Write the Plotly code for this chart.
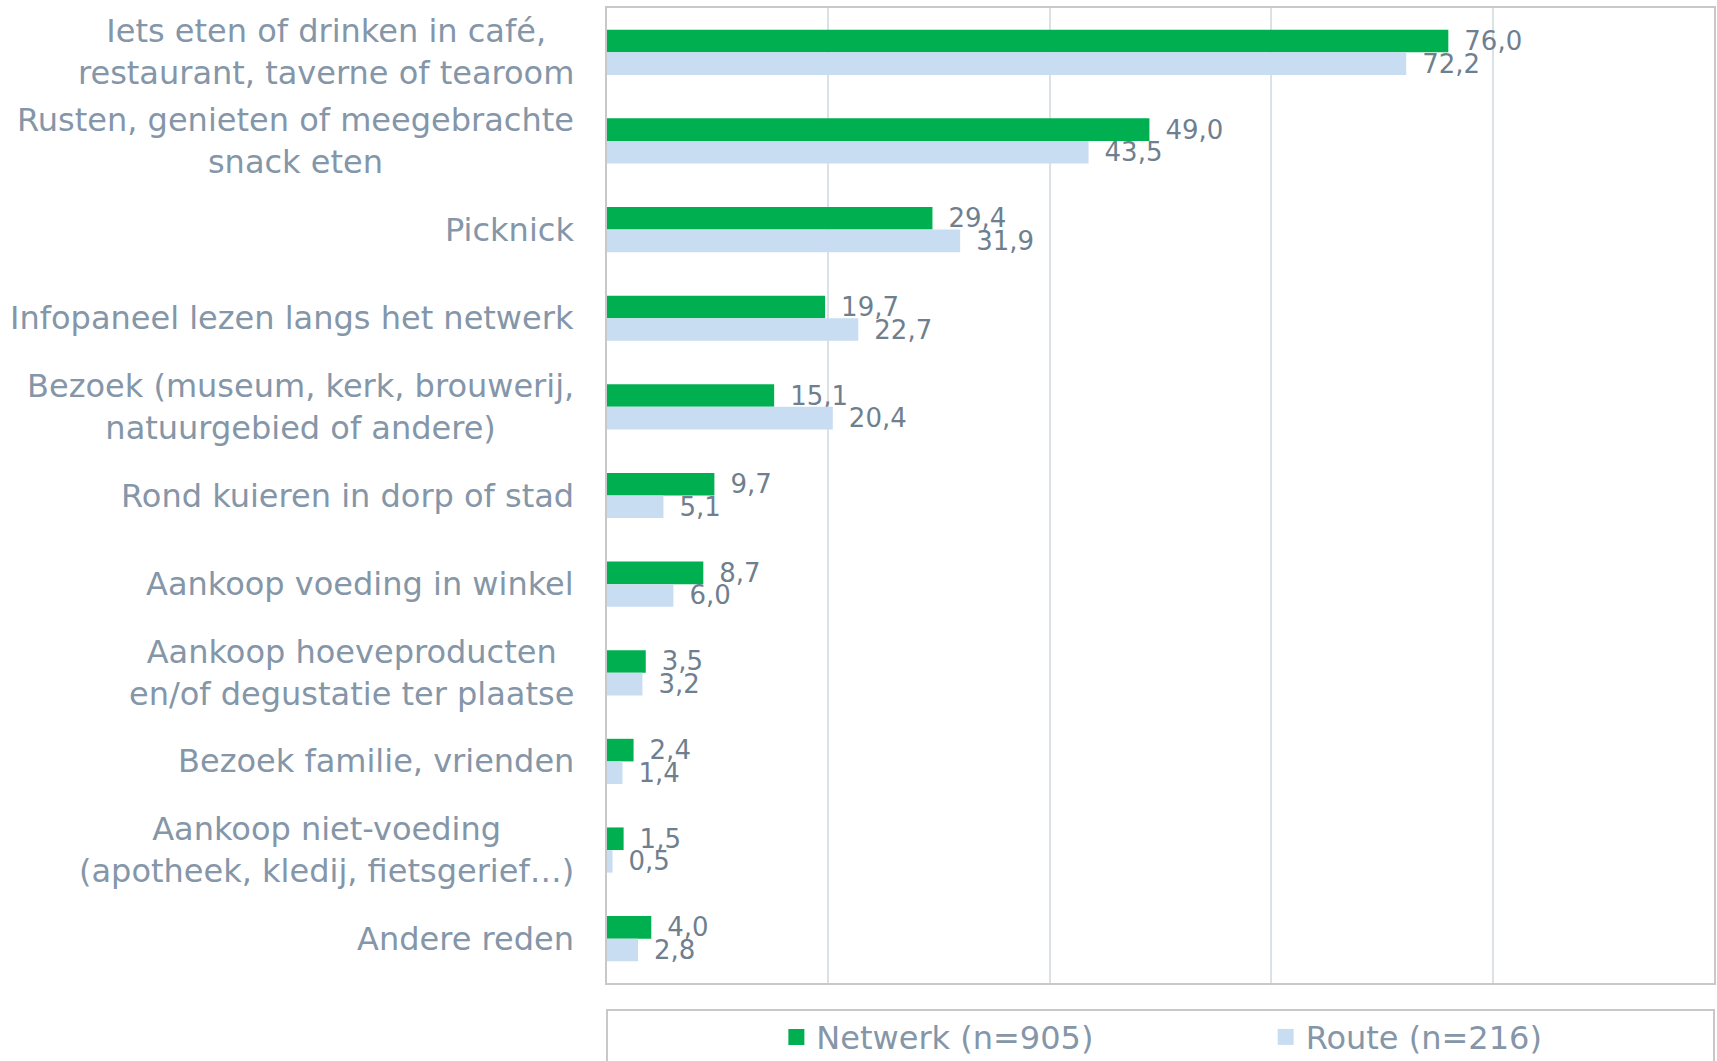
import plotly.graph_objects as go

categories = [
    "Iets eten of drinken in café,<br>restaurant, taverne of tearoom",
    "Rusten, genieten of meegebrachte<br>snack eten",
    "Picknick",
    "Infopaneel lezen langs het netwerk",
    "Bezoek (museum, kerk, brouwerij,<br>natuurgebied of andere)",
    "Rond kuieren in dorp of stad",
    "Aankoop voeding in winkel",
    "Aankoop hoeveproducten<br>en/of degustatie ter plaatse",
    "Bezoek familie, vrienden",
    "Aankoop niet-voeding<br>(apotheek, kledij, fietsgerief…)",
    "Andere reden",
]
netwerk = [76.0, 49.0, 29.4, 19.7, 15.1, 9.7, 8.7, 3.5, 2.4, 1.5, 4.0]
route = [72.2, 43.5, 31.9, 22.7, 20.4, 5.1, 6.0, 3.2, 1.4, 0.5, 2.8]
series_names = ["Netwerk (n=905)", "Route (n=216)"]
x_ticks = [0, 20, 40, 60, 80, 100]

GREEN = "#00B050"
LIGHTBLUE = "#C9DDF2"
LABEL_COLOR = "#8496A8"
VALUE_COLOR = "#6F7F8F"
FONT = "DejaVu Sans"

fig = go.Figure()
for name, vals, col in [(series_names[0], netwerk, GREEN), (series_names[1], route, LIGHTBLUE)]:
    fig.add_trace(go.Bar(
        y=categories, x=vals, name=name, orientation="h",
        marker=dict(color=col, line=dict(width=0)),
        texttemplate="\u2002%{x:.1f}", textposition="outside",
        textfont=dict(family=FONT, size=26, color=VALUE_COLOR),
        constraintext="none", cliponaxis=False, showlegend=False,
    ))

# legend entries with larger square symbols, one legend per entry
for name, col, lg in [(series_names[0], GREEN, "legend"), (series_names[1], LIGHTBLUE, "legend2")]:
    fig.add_trace(go.Scatter(
        x=[None], y=[None], mode="markers", name=name, legend=lg,
        marker=dict(symbol="square", size=16, color=col), showlegend=True,
    ))

for c in categories:
    fig.add_annotation(
        x=0, xref="paper", y=c, yref="y", xanchor="right", yanchor="middle",
        xshift=-31, align="center", showarrow=False, text=c,
        font=dict(family=FONT, size=32, color=LABEL_COLOR),
    )

# legend box
fig.add_shape(type="rect", xref="paper", yref="paper", x0=0, x1=1, y0=-0.0277, y1=-0.3,
              line=dict(color="#C8C8C8", width=2), fillcolor="rgba(0,0,0,0)", layer="below")

legend_style = dict(orientation="h", xanchor="left", y=-0.0555, yanchor="middle",
                    font=dict(family=FONT, size=32, color=LABEL_COLOR),
                    itemwidth=30, bgcolor="rgba(0,0,0,0)")

fig.update_layout(
    width=1717, height=1061,
    margin=dict(l=607, r=3, t=8, b=78, autoexpand=False),
    paper_bgcolor="white", plot_bgcolor="white",
    barmode="group", bargap=0.49, bargroupgap=0,
    separators=",.",
    font=dict(family=FONT, color=LABEL_COLOR),
    showlegend=True,
    legend=dict(x=0.153, **legend_style),
    legend2=dict(x=0.595, **legend_style),
    xaxis=dict(range=[0, 100], tickvals=x_ticks, showticklabels=False, showgrid=True,
               gridcolor="#DCE1E6", gridwidth=1.5, zeroline=False,
               showline=True, mirror=True, linecolor="#C8C8C8", linewidth=2, ticks=""),
    yaxis=dict(autorange="reversed", showticklabels=False, showgrid=False, zeroline=False,
               showline=True, mirror=True, linecolor="#C8C8C8", linewidth=2, ticks=""),
)

fig.write_html(
    "out.html",
    config={"displayModeBar": False},
    post_script="document.body.style.margin='0';document.body.style.overflow='hidden';",
)
